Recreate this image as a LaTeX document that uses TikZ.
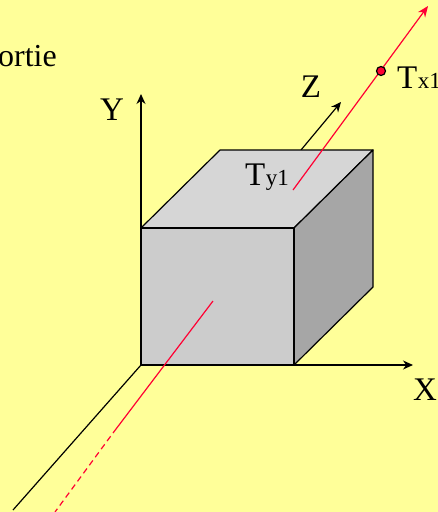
\documentclass[tikz,border=0pt]{standalone}
\usepackage{fontspec}
\setmainfont{Liberation Serif}
\usepackage{tikz}
\usetikzlibrary{arrows.meta, positioning, calc}
\definecolor{paper1}{RGB}{255, 255, 153}
\definecolor{red1}{RGB}{255, 0, 51}
\definecolor{top1}{RGB}{214, 214, 214}
\definecolor{front1}{RGB}{204, 204, 204}
\definecolor{side1}{RGB}{166, 166, 166}
\tikzset{
  axisline/.style={black, line width=1.2pt, -{Stealth[length=10pt, width=9pt]}},
  beamline/.style={red1, line width=1.2pt},
  face/.style={draw=black, line width=1.2pt, line join=round},
  biglabel/.style={font=\fontsize{33}{33}\selectfont, inner sep=0pt, anchor=base},
  smalllabel/.style={font=\fontsize{23}{23}\selectfont, inner sep=0pt, anchor=base west}
}
\begin{document}
\begin{tikzpicture}[x=1pt, y=-1pt]
  \useasboundingbox (0,0) rectangle (438,512);
  \clip (0,0) rectangle (438,512);
  \fill[paper1] (0,0) rectangle (438,512);

  % corners of the block
  \coordinate (fronttl) at (141,228);
  \coordinate (fronttr) at (294,228);
  \coordinate (frontbl) at (141,365);
  \coordinate (frontbr) at (294,365);
  \coordinate (backtl) at (220,150);
  \coordinate (backtr) at (373,150);
  \coordinate (backbr) at (373,287);

  % axes
  \coordinate (yend) at (141,94);
  \coordinate (xend) at (413,365);
  \coordinate (zstart) at (301,150);
  \coordinate (zend) at (341,102);
  \coordinate (origin) at (13,510);
  \draw[axisline] (fronttl) -- (yend);
  \draw[axisline] (frontbr) -- (xend);
  \draw[axisline] (zstart) -- (zend);
  \draw[black, line width=1.2pt] (frontbl) -- (origin);

  % block
  \draw[face, fill=top1] (fronttl) -- (backtl) -- (backtr) -- (fronttr) -- cycle;
  \draw[face, fill=side1] (fronttr) -- (backtr) -- (backbr) -- (frontbr) -- cycle;
  \draw[face, fill=front1] (fronttl) -- (fronttr) -- (frontbr) -- (frontbl) -- cycle;
  \draw[black, line width=2.4pt] (fronttr) -- (frontbr);

  % beam
  \coordinate (beamin) at (293,190);
  \coordinate (beamtip) at (428,6);
  \coordinate (hitstart) at (213,301);
  \coordinate (hitend) at (113,433);
  \coordinate (hitfree) at (55,512);
  \draw[beamline, -{Stealth[length=11pt, width=9pt]}] (beamin) -- (beamtip);
  \draw[beamline] (hitstart) -- (hitend);
  \draw[beamline, dash pattern=on 6pt off 4pt, dash phase=6pt] (hitend) -- (hitfree);
  \node[circle, draw=black, fill=red1, line width=1.2pt, minimum size=9pt, inner sep=0pt] (dotx) at (381,71) {};

  % labels
  \node[biglabel, anchor=base east] (sortie) at (57,66) {\fontsize{32}{32}\selectfont ortie};
  \node[biglabel] (laby) at (112,120) {Y};
  \node[biglabel] (labz) at (311,97) {Z};
  \node[biglabel] (labx) at (425,400) {X};
  \node[biglabel, anchor=base west] (tx) at (397,88) {T};
  \node[smalllabel] (tx1) at (tx.base east) {x1};
  \node[biglabel, anchor=base west] (ty) at (245,185) {T};
  \node[smalllabel] (ty1) at (ty.base east) {y1};
\end{tikzpicture}
\end{document}
